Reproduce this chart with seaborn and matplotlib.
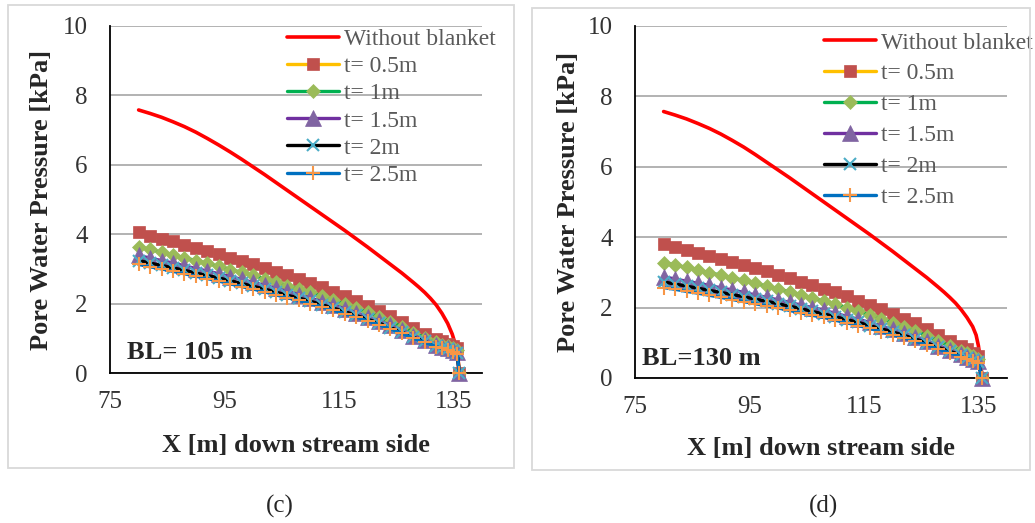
import numpy as np
import pandas as pd
import matplotlib
matplotlib.use("Agg")
import matplotlib.pyplot as plt
from matplotlib.patches import Rectangle
import seaborn as sns

# ---- data ----
# x positions of the blanket series (downstream side, m)
x_c = [80, 82, 84, 86, 88, 90, 92, 94, 96, 98, 100, 102, 104, 106, 108, 110, 112,
       114, 116, 118, 120, 122, 124, 126, 128, 130, 132, 133, 134, 135, 135.7, 136]
x_d = [80, 82, 84, 86, 88, 90, 92, 94, 96, 98, 100, 102, 104, 106, 108, 110, 112,
       114, 116, 118, 120, 122, 124, 126, 128, 130, 132, 133, 134, 135, 135.6]

# without blanket (red line)
xr_c = [80, 82, 84, 86, 88, 90, 92, 94, 96, 98, 100, 102, 104, 106, 108, 110, 112,
        114, 116, 118, 120, 122, 124, 126, 128, 129, 130, 131, 132, 133, 134, 134.8, 135.3,
        135.7, 135.9, 136]
red_c = [7.58, 7.48, 7.37, 7.24, 7.10, 6.94, 6.76, 6.57, 6.37, 6.16, 5.94, 5.72, 5.49,
         5.26, 5.03, 4.80, 4.57, 4.34, 4.11, 3.87, 3.63, 3.38, 3.13, 2.88, 2.61, 2.47,
         2.32, 2.15, 1.96, 1.72, 1.43, 1.12, 0.85, 0.55, 0.26, 0]
xr_d = [80, 82, 84, 86, 88, 90, 92, 94, 96, 98, 100, 102, 104, 106, 108, 110, 112,
        114, 116, 118, 120, 122, 124, 126, 128, 129, 130, 131, 132, 133, 134, 134.6, 135,
        135.3, 135.5, 135.6]
red_d = [7.57, 7.47, 7.36, 7.23, 7.09, 6.93, 6.75, 6.56, 6.35, 6.13, 5.91, 5.69, 5.46,
         5.23, 5.00, 4.77, 4.54, 4.31, 4.08, 3.84, 3.60, 3.35, 3.10, 2.85, 2.58, 2.44,
         2.29, 2.13, 1.94, 1.72, 1.46, 1.22, 0.92, 0.58, 0.27, 0]

# panel (c), BL = 105 m
t05_c = [4.05, 3.96, 3.87, 3.79, 3.70, 3.61, 3.51, 3.42, 3.32, 3.23, 3.13, 3.02, 2.91,
         2.81, 2.70, 2.58, 2.47, 2.34, 2.22, 2.08, 1.94, 1.80, 1.64, 1.48, 1.29, 1.13,
         0.98, 0.91, 0.85, 0.79, 0.72, 0]
t1_c = [3.64, 3.56, 3.48, 3.40, 3.32, 3.24, 3.16, 3.07, 2.98, 2.90, 2.81, 2.72, 2.62,
        2.52, 2.43, 2.32, 2.21, 2.10, 1.99, 1.87, 1.75, 1.61, 1.48, 1.33, 1.16, 1.02,
        0.88, 0.82, 0.77, 0.71, 0.65, 0]
t15_c = [3.39, 3.31, 3.24, 3.17, 3.09, 3.01, 2.94, 2.86, 2.78, 2.70, 2.61, 2.53, 2.44,
         2.35, 2.26, 2.16, 2.06, 1.96, 1.85, 1.74, 1.62, 1.50, 1.37, 1.24, 1.08, 0.95,
         0.82, 0.76, 0.71, 0.66, 0.60, 0]
t2_c = [3.24, 3.17, 3.10, 3.03, 2.96, 2.88, 2.81, 2.74, 2.66, 2.58, 2.50, 2.42, 2.33,
        2.24, 2.16, 2.07, 1.97, 1.87, 1.77, 1.66, 1.55, 1.44, 1.31, 1.18, 1.03, 0.91,
        0.78, 0.73, 0.68, 0.63, 0.58, 0]
t25_c = [3.13, 3.06, 3.00, 2.93, 2.86, 2.79, 2.72, 2.65, 2.57, 2.49, 2.42, 2.34, 2.25,
         2.17, 2.09, 2.00, 1.91, 1.81, 1.71, 1.61, 1.50, 1.39, 1.27, 1.14, 1.00, 0.88,
         0.76, 0.71, 0.66, 0.61, 0.56, 0]

# panel (d), BL = 130 m
t05_d = [3.81, 3.72, 3.64, 3.56, 3.48, 3.39, 3.30, 3.22, 3.12, 3.03, 2.94, 2.84, 2.74,
         2.64, 2.54, 2.43, 2.32, 2.20, 2.08, 1.96, 1.83, 1.69, 1.55, 1.39, 1.22, 1.05,
         0.90, 0.81, 0.72, 0.62, 0]
t1_d = [3.28, 3.21, 3.14, 3.07, 2.99, 2.92, 2.85, 2.77, 2.69, 2.61, 2.53, 2.45, 2.36,
        2.27, 2.19, 2.09, 2.00, 1.90, 1.79, 1.69, 1.57, 1.46, 1.33, 1.20, 1.05, 0.91,
        0.78, 0.70, 0.62, 0.53, 0]
t15_d = [2.88, 2.81, 2.75, 2.69, 2.63, 2.56, 2.50, 2.43, 2.36, 2.29, 2.22, 2.15, 2.07,
         2.00, 1.92, 1.84, 1.75, 1.67, 1.58, 1.48, 1.38, 1.28, 1.17, 1.05, 0.92, 0.80,
         0.68, 0.61, 0.55, 0.47, 0]
t2_d = [2.73, 2.67, 2.61, 2.55, 2.49, 2.43, 2.37, 2.31, 2.24, 2.18, 2.11, 2.04, 1.97,
        1.89, 1.82, 1.74, 1.66, 1.58, 1.49, 1.40, 1.31, 1.21, 1.11, 1.00, 0.87, 0.76,
        0.65, 0.58, 0.52, 0.45, 0]
t25_d = [2.57, 2.52, 2.46, 2.41, 2.35, 2.29, 2.23, 2.17, 2.11, 2.05, 1.99, 1.92, 1.85,
         1.78, 1.72, 1.64, 1.57, 1.49, 1.41, 1.32, 1.23, 1.14, 1.04, 0.94, 0.82, 0.71,
         0.61, 0.55, 0.49, 0.42, 0]

labels = ["t= 0.5m", "t= 1m", "t= 1.5m", "t= 2m", "t= 2.5m"]
line_cols = ["#FFC000", "#00B050", "#7030A0", "#000000", "#0070C0"]
mark_cols = ["#C0504D", "#9BBB59", "#8064A2", "#4BACC6", "#F79646"]
markers = ["s", "D", "^", "x", "+"]
msizes = [8.6, 7.0, 11, 8.5, 10]

sns.set_style("white")
plt.rcParams['font.family'] = ['Liberation Serif', 'DejaVu Serif']

fig = plt.figure(figsize=(10.35, 5.23), dpi=100)
W, H = 1035.0, 523.0

# grey frames round each panel
fig.patches.append(Rectangle((8 / W, 1 - 468 / H), 506 / W, 463 / H, transform=fig.transFigure,
                             fill=False, ec="#d9d9d9", lw=1.3))
fig.patches.append(Rectangle((532 / W, 1 - 470 / H), 498 / W, 462 / H, transform=fig.transFigure,
                             fill=False, ec="#d9d9d9", lw=1.3))

ax1 = fig.add_axes([110 / W, 1 - 373 / H, 372 / W, 347 / H])
ax2 = fig.add_axes([635 / W, 1 - 378 / H, 372 / W, 352 / H])


def draw(ax, xs, xr, red, series, bl_text, bl_pos, leg_anchor, leg_space, xlab_y, ylab_x):
    sns.lineplot(x=xr, y=red, ax=ax, color="#FF0000", lw=2.6, label="Without blanket",
                 sort=False, errorbar=None, clip_on=False, zorder=3)
    for i in range(5):
        mk = markers[i]
        kw = dict(marker=mk, markersize=msizes[i], markeredgecolor=mark_cols[i])
        if mk in ("x", "+"):
            kw["markeredgewidth"] = 1.5
        else:
            kw["markerfacecolor"] = mark_cols[i]
            kw["markeredgewidth"] = 0.5
        sns.lineplot(x=xs, y=series[i], ax=ax, color=line_cols[i], lw=2.4, label=labels[i],
                     sort=False, errorbar=None, clip_on=False, zorder=4, **kw)

    ax.set_xlim(75, 140)
    ax.set_ylim(0, 10)
    ax.set_xticks([75, 95, 115, 135])
    ax.set_yticks([0, 2, 4, 6, 8, 10])
    ax.yaxis.grid(True, color="#a6a6a6", lw=1.2)
    ax.xaxis.grid(False)
    ax.set_axisbelow(True)
    for s in ["top", "right"]:
        ax.spines[s].set_visible(False)
    for s in ["left", "bottom"]:
        ax.spines[s].set_color("black")
        ax.spines[s].set_linewidth(1.3)
    ax.tick_params(axis="x", direction="in", length=5, width=1.2, color="black",
                   labelsize=18, labelcolor="#333333", pad=13)
    ax.tick_params(axis="y", length=0, labelsize=18, labelcolor="#333333", pad=16)

    ax.set_xlabel("X [m] down stream side", fontsize=19, fontweight="bold")
    ax.set_ylabel("Pore Water Pressure [kPa]", fontsize=19, fontweight="bold")
    ax.xaxis.label.set_va("center")
    ax.yaxis.label.set_va("center")
    ax.xaxis.set_label_coords(0.5, xlab_y)
    ax.yaxis.set_label_coords(ylab_x, 0.5)

    ax.text(bl_pos[0], bl_pos[1], bl_text, transform=ax.transAxes, fontsize=19,
            fontweight="bold", va="center", ha="left")

    leg = ax.legend(loc="upper left", bbox_to_anchor=leg_anchor, frameon=False,
                    fontsize=17, handlelength=2.2, handletextpad=0.2, borderpad=0,
                    borderaxespad=0, labelspacing=leg_space)
    for t in leg.get_texts():
        t.set_color("#595959")


draw(ax1, x_c, xr_c, red_c, [t05_c, t1_c, t15_c, t2_c, t25_c], "BL= 105 m", (0.045, 0.058),
     (0.476, 0.993), 0.24, -0.21, -0.183)
draw(ax2, x_d, xr_d, red_d, [t05_d, t1_d, t15_d, t2_d, t25_d], "BL=130 m", (0.019, 0.054),
     (0.508, 0.983), 0.4, -0.2, -0.18)

fig.text(280 / W, 1 - 506 / H, "(c)", ha="center", va="center", fontsize=18)
fig.text(823 / W, 1 - 506 / H, "(d)", ha="center", va="center", fontsize=18)

fig.savefig("out.png", dpi=100)
